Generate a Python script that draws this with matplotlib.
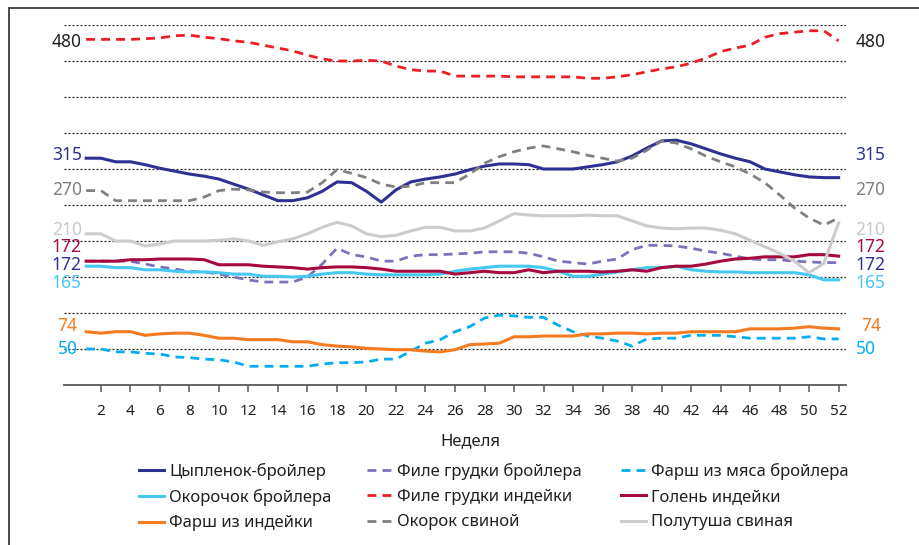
import matplotlib
matplotlib.use("Agg")
import matplotlib.pyplot as plt
from matplotlib.patches import Rectangle

plt.rcParams['font.family'] = ['Noto Sans', 'DejaVu Sans']

weeks = list(range(1, 53))

broiler = [315,315,310,310,306,301,297,293,290,286,279,272,264,256,256,260,269,282,281,269,254,271,282,286,289,293,
           299,304,307,307,306,300,300,300,303,306,310,318,329,339,340,335,328,321,315,310,300,296,292,289,288,288]
broiler_fillet = [172,172,172,172,168,164,161,158,157,154,150,146,143,143,143,150,168,190,181,178,172,172,179,181,181,182,
                  183,185,185,185,183,178,172,170,168,172,175,188,194,194,193,190,186,183,179,175,174,174,172,171,170,170]
broiler_mince = [50,50,46,46,44,43,39,38,36,35,32,26,26,26,26,26,29,31,31,32,36,36,47,58,63,74,
                 81,93,97,96,94,94,83,74,68,65,61,54,64,65,65,69,69,69,67,65,65,65,65,67,64,64]
broiler_leg = [165,165,163,163,160,160,158,157,157,156,154,154,151,151,150,151,154,156,156,154,153,153,153,153,154,158,
               161,163,165,165,165,163,158,151,151,154,157,160,163,163,165,160,158,157,157,156,156,156,156,153,146,146]
turkey_fillet = [480,480,480,480,481,482,485,486,483,481,478,476,472,468,464,458,453,450,450,451,450,443,438,436,436,429,
                 429,429,429,428,428,428,428,428,426,426,428,431,435,439,442,447,454,463,468,472,483,488,490,492,492,478]
turkey_shin = [172,172,172,174,174,175,175,175,174,167,167,167,165,164,163,161,163,164,164,163,161,158,158,158,158,154,
               156,158,156,156,160,156,158,158,158,157,158,160,158,163,165,165,168,172,175,176,178,178,178,181,181,179]
turkey_mince = [74,72,74,74,69,71,72,72,69,65,65,63,63,63,60,60,56,54,53,51,50,49,49,47,46,49,
                56,57,58,67,67,68,68,68,71,71,72,72,71,72,72,74,74,74,74,78,78,78,79,81,79,78]
pork_ham = [270,270,256,256,256,256,256,256,261,270,272,271,268,267,267,268,281,299,294,288,279,275,276,281,281,281,
            293,308,317,324,329,332,328,324,319,315,311,315,326,339,336,328,318,310,303,293,281,264,246,232,222,232]
pork_half = [210,210,200,200,193,196,200,200,200,201,203,200,194,199,203,210,219,226,221,210,206,208,214,219,219,214,
             214,218,228,238,236,235,235,235,236,235,235,228,221,218,217,218,218,215,210,201,192,183,172,156,169,225]

names = ["Цыпленок-бройлер", "Филе грудки бройлера", "Фарш из мяса бройлера",
         "Окорочок бройлера", "Филе грудки индейки", "Голень индейки",
         "Фарш из индейки", "Окорок свиной", "Полутуша свиная"]
series = [broiler, broiler_fillet, broiler_mince, broiler_leg, turkey_fillet, turkey_shin,
          turkey_mince, pork_ham, pork_half]
colors = ["#2e3192", "#7b72b9", "#00aeef", "#45c8f2", "#ee1c25", "#a6093d", "#f47b20", "#808080", "#cccccc"]
dashed = [False, True, True, False, True, False, False, True, False]

label_texts = ["480", "315", "270", "210", "172", "172", "165", "74", "50"]
label_colors = ["#231f20", "#2e3192", "#808080", "#c8c8c8", "#a6093d", "#2e3192", "#45c8f2", "#f47b20", "#00aeef"]
label_y = [477, 319, 271, 215, 191, 167, 142, 82, 50]
label_xl = [0.70, 0.70, 0.70, 0.70, 0.70, 0.70, 0.70, 0.40, 0.45]
label_xr = [53.15, 53.15, 53.15, 53.15, 53.15, 53.15, 53.15, 53.55, 53.15]

W, H = 919, 545
fig = plt.figure(figsize=(W / 100, H / 100), dpi=100)
ax = fig.add_axes([64 / W, 1 - 385 / H, (846 - 64) / W, 360 / H])

handles = []
for name, vals, c, d in zip(names, series, colors, dashed):
    if d:
        ln, = ax.plot(weeks, vals, color=c, lw=2.0, linestyle=(0, (3.2, 2.2)), label=name,
                      dash_capstyle='butt')
    else:
        ln, = ax.plot(weeks, vals, color=c, lw=2.2, label=name, solid_joinstyle='round')
    handles.append(ln)

ax.set_xlim(-0.5, 52.5)
ax.set_ylim(0, 500)
ax.set_yticks(range(50, 501, 50))
ax.tick_params(axis='y', left=False, labelleft=False)
ax.grid(axis='y', color='#222222', linestyle=(0, (1.6, 1.6)), lw=0.9)
ax.set_xticks(range(2, 53, 2))
ax.tick_params(axis='x', direction='out', length=5, width=1.1, color='#595959', labelsize=11,
               labelcolor='#231f20', pad=9)
for s in ['top', 'right', 'left']:
    ax.spines[s].set_visible(False)
ax.spines['bottom'].set_color('#595959')
ax.spines['bottom'].set_linewidth(1.3)

for t, c, y, xl, xr in zip(label_texts, label_colors, label_y, label_xl, label_xr):
    ax.text(xl, y, t, color=c, fontsize=12.5, ha='right', va='center')
    ax.text(xr, y, t, color=c, fontsize=12.5, ha='left', va='center', clip_on=False)

fig.text(470 / W, 1 - 441 / H, "Неделя", fontsize=12, ha='center', va='center', color='#231f20')

# legend: three columns placed at the reference column positions
col_x = [139, 367, 621]
col_idx = [[0, 3, 6], [1, 4, 7], [2, 5, 8]]
for cx, idx in zip(col_x, col_idx):
    lg = fig.legend([handles[i] for i in idx], [names[i] for i in idx], ncol=1,
                    loc='upper left', bbox_to_anchor=(cx / W, 1 - 463 / H), frameon=False,
                    fontsize=12, handlelength=1.5, handletextpad=0.3, labelspacing=0.55,
                    borderpad=0, borderaxespad=0)
    for txt in lg.get_texts():
        txt.set_color('#231f20')

fig.patches.append(Rectangle((9 / W, -0.2), 1.2, 1.2 - 8 / H, transform=fig.transFigure,
                             fill=False, edgecolor='#3a3a3a', lw=1.3, clip_on=False))

fig.savefig("out.png", dpi=100)
